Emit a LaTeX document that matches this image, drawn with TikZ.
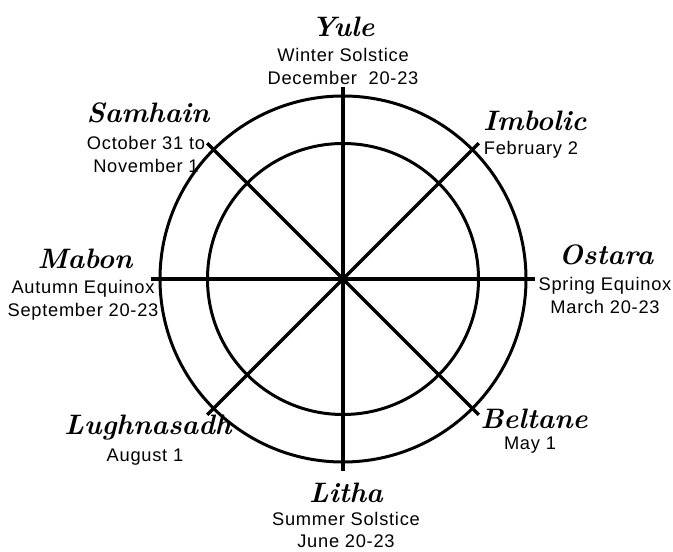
\documentclass[tikz,border=0pt]{standalone}
\usepackage{fontspec}
\newfontfamily\datefont[LetterSpace=4]{Liberation Sans}
\usetikzlibrary{positioning}
\tikzset{
  sabbat/.style={font=\fontsize{16}{18}\selectfont\bfseries\itshape, inner sep=0pt},
  dates/.style={font=\datefont\fontsize{10.4}{13}\selectfont, align=center, inner sep=0pt},
  ring/.style={line width=1.7pt},
  spoke/.style={line width=1.9pt},
}

\begin{document}
\begin{tikzpicture}
    \useasboundingbox (-6.86,-5.46) rectangle (6.6,5.58);
    % Centre de la roue
    \coordinate (c) at (0,0);
    % Cercles
    \draw[ring] (c) circle (3.66);
    \draw[ring] (c) circle (2.71);
    % Rayons
    \foreach \a in {0,45,90,135} \draw[spoke] (c) ++(\a:3.84) -- ++(\a+180:7.68);
    % Noms des sabbats
    \node[sabbat] (yule) at (0,5.04) {Yule};
    \node[sabbat] (imbolc) at (3.84,3.16) {Imbolic};
    \node[sabbat] (ostara) at (5.26,0.48) {Ostara};
    \node[sabbat] (beltane) at (3.82,-2.8) {Beltane};
    \node[sabbat] (litha) at (0.06,-4.28) {Litha};
    \node[sabbat] (lugh) at (-3.9,-2.98) {Lughnasadh};
    \node[sabbat] (mabon) at (-5.16,0.4) {Mabon};
    \node[sabbat] (samhain) at (-3.9,3.32) {Samhain};
    % Dates
    \node[dates] (yuled) at (0,4.25) {Winter Solstice\\December~ 20-23};
    \node[dates] (imbolcd) at (3.76,2.58) {February 2};
    \node[dates] (ostarad) at (5.24,-0.33) {Spring Equinox\\March 20-23};
    \node[dates] (beltaned) at (3.74,-3.32) {May 1};
    \node[dates] (lithad) at (0.06,-5.02) {Summer Solstice\\June 20-23};
    \node[dates] (lughd) at (-3.96,-3.56) {August 1};
    \node[dates] (mabond) at (-5.2,-0.42) {Autumn Equinox\\September 20-23};
    \node[dates] (samhaind) at (-3.94,2.49) {October 31 to\\November 1};
\end{tikzpicture}
\end{document}
